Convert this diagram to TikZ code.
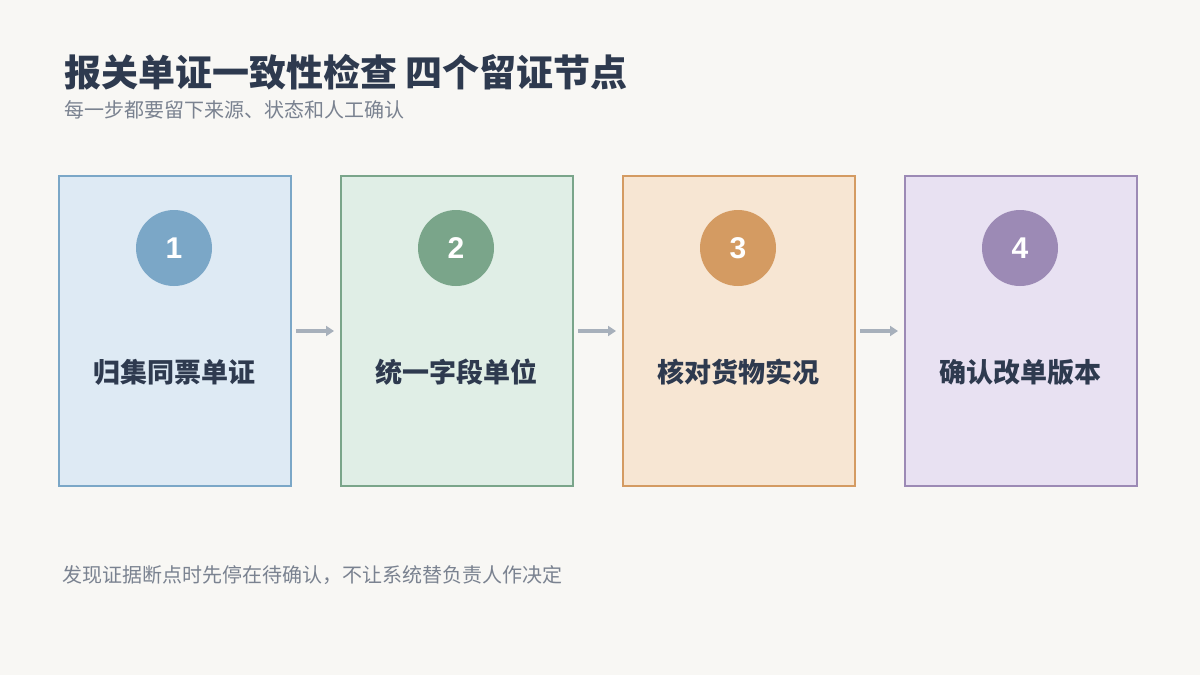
\documentclass[tikz,border=0pt]{standalone}
\usepackage{fontspec}
\setmainfont{Noto Sans CJK SC}
\newfontfamily\numf{Liberation Sans}
\usetikzlibrary{arrows.meta}
\begin{document}
\begin{tikzpicture}[x=1pt,y=-1pt,
  box/.style={draw=#1,line width=2pt,minimum width=232pt,minimum height=310pt,anchor=north west,inner sep=0pt},
  num/.style={circle,fill=#1,minimum size=76pt,inner sep=0pt,text=white,font=\numf\bfseries\fontsize{30}{32}\selectfont},
  lab/.style={text=dark,font=\bfseries\fontsize{27}{30}\selectfont},
  arr/.style={draw=arrowc,line width=3.5pt,-{Triangle[length=8pt,width=10pt]}}]
\definecolor{bg}{HTML}{F8F7F4}
\definecolor{dark}{HTML}{2E3A4F}
\definecolor{arrowc}{HTML}{A7B0BB}
\definecolor{grayt}{HTML}{7A8290}
\definecolor{s1}{HTML}{7BA7C7}\definecolor{f1}{HTML}{DEEAF4}
\definecolor{s2}{HTML}{7AA58A}\definecolor{f2}{HTML}{E0EEE6}
\definecolor{s3}{HTML}{D49B62}\definecolor{f3}{HTML}{F7E6D3}
\definecolor{s4}{HTML}{9C8AB5}\definecolor{f4}{HTML}{E8E1F2}
\fill[bg] (0,0) rectangle (1200,675);
\useasboundingbox (0,0) rectangle (1200,675);
\node[anchor=west,text=dark,font=\bfseries\fontsize{37}{40}\selectfont,inner sep=0pt] (title) at (64,72) {报关单证一致性检查 四个留证节点};
\node[anchor=west,text=grayt,font=\fontsize{20}{22}\selectfont,inner sep=0pt] (sub) at (64,110) {每一步都要留下来源、状态和人工确认};
\foreach \i/\x/\t in {1/58/归集同票单证,2/340/统一字段单位,3/622/核对货物实况,4/904/确认改单版本}{
  \node[box=s\i,fill=f\i] (b\i) at (\x,175) {};
  \node[num=s\i] (c\i) at (\x+116,248) {\i};
  \node[lab] (l\i) at (\x+116,372) {\t};
}
\draw[arr] (b1.east)++(4,0) -- ([xshift=-6pt]b2.west);
\draw[arr] (b2.east)++(4,0) -- ([xshift=-6pt]b3.west);
\draw[arr] (b3.east)++(4,0) -- ([xshift=-6pt]b4.west);
\node[anchor=west,text=grayt,font=\fontsize{20}{22}\selectfont,inner sep=0pt] (foot) at (62,575) {发现证据断点时先停在待确认，不让系统替负责人作决定};
\end{tikzpicture}
\end{document}
